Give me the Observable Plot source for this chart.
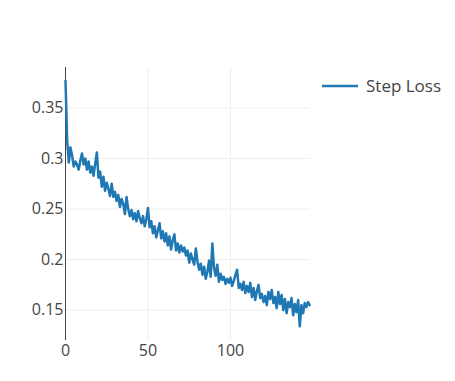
<!DOCTYPE html>
<html>
<head>
<meta charset="utf-8">
<script src="https://cdn.jsdelivr.net/npm/d3@7"></script>
<script src="https://cdn.jsdelivr.net/npm/@observablehq/plot@0.6"></script>
<style>
  html, body { margin: 0; padding: 0; background: #fff; }
  #wrap { position: relative; width: 455px; height: 381px; font-family: "Open Sans", sans-serif; }
  #legend { position: absolute; left: 321px; top: 74px; display: flex; align-items: center; font-size: 17px; color: #444; white-space: nowrap; }
</style>
</head>
<body>
<div id="wrap">
  <div id="chart"></div>
  <div id="legend"><svg width="40" height="22"><line x1="1" y1="11" x2="37" y2="11" stroke="#1f77b4" stroke-width="2.5"/></svg><span style="margin-left:5px">Step Loss</span></div>
</div>
<script>
const seriesName = "Step Loss";
const stepLoss = [
  0.377, 0.318, 0.296, 0.311, 0.303, 0.292, 0.297, 0.294, 0.289, 0.298,
  0.305, 0.294, 0.300, 0.289, 0.297, 0.286, 0.292, 0.283, 0.295, 0.306,
  0.281, 0.287, 0.272, 0.282, 0.268, 0.276, 0.270, 0.263, 0.275, 0.262,
  0.267, 0.258, 0.264, 0.252, 0.260, 0.255, 0.245, 0.262, 0.250, 0.243,
  0.249, 0.240, 0.246, 0.238, 0.248, 0.241, 0.236, 0.243, 0.233, 0.240,
  0.251, 0.232, 0.238, 0.226, 0.233, 0.222, 0.229, 0.236, 0.221, 0.228,
  0.218, 0.226, 0.214, 0.223, 0.210, 0.219, 0.225, 0.209, 0.216, 0.207,
  0.214, 0.208, 0.212, 0.204, 0.209, 0.197, 0.206, 0.200, 0.195, 0.211,
  0.198, 0.190, 0.196, 0.185, 0.193, 0.181, 0.188, 0.199, 0.183, 0.216,
  0.192, 0.184, 0.195, 0.178, 0.186, 0.180, 0.183, 0.176, 0.181, 0.177,
  0.182, 0.174, 0.179, 0.185, 0.190, 0.172, 0.176, 0.170, 0.178, 0.167,
  0.174, 0.168, 0.177, 0.163, 0.172, 0.160, 0.169, 0.175, 0.162, 0.166,
  0.158, 0.164, 0.155, 0.168, 0.161, 0.170, 0.157, 0.163, 0.152, 0.168,
  0.156, 0.165, 0.150, 0.161, 0.147, 0.158, 0.153, 0.162, 0.145, 0.156,
  0.148, 0.160, 0.134, 0.155, 0.147, 0.157, 0.153, 0.158, 0.155
];
const steps = stepLoss.map((_, i) => i);
const xTicks = [0, 50, 100];
const yTicks = [0.15, 0.2, 0.25, 0.3, 0.35];
const yTickLabels = ["0.15", "0.2", "0.25", "0.3", "0.35"];

const data = steps.map((s, i) => ({step: s, loss: stepLoss[i]}));

const chart = Plot.plot({
  width: 455,
  height: 381,
  marginLeft: 65,
  marginRight: 145,
  marginTop: 67,
  marginBottom: 41,
  style: {fontFamily: "Open Sans, sans-serif", fontSize: "16px", color: "#444", background: "#fff"},
  x: {domain: [0, 148.5], ticks: xTicks, tickSize: 0, tickPadding: 4, label: null},
  y: {domain: [0.12, 0.39], ticks: yTicks, tickSize: 0, tickPadding: 2, label: null,
      tickFormat: d => yTickLabels[yTicks.indexOf(d)]},
  marks: [
    Plot.gridY(yTicks, {stroke: "#eee", strokeOpacity: 1, strokeWidth: 1}),
    Plot.gridX(xTicks.filter(d => d !== 0), {stroke: "#eee", strokeOpacity: 1, strokeWidth: 1}),
    Plot.ruleX([0], {stroke: "#444", strokeWidth: 1}),
    Plot.line(data, {x: "step", y: "loss", stroke: "#1f77b4", strokeWidth: 2.5})
  ]
});
document.getElementById("chart").appendChild(chart);
</script>
</body>
</html>
